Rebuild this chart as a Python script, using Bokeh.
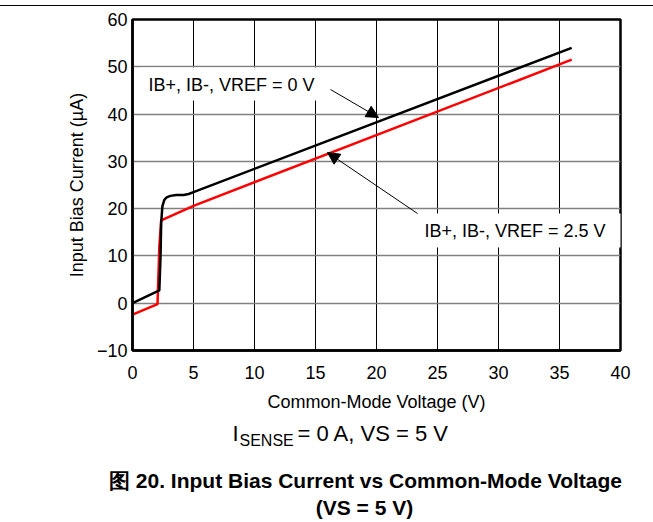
from bokeh.plotting import figure
from bokeh.layouts import column
from bokeh.models import Label, Arrow, NormalHead, BoxAnnotation, FixedTicker, Range1d, Div
from bokeh.embed import file_html
from bokeh.resources import INLINE

# ---- data ----
vref0_x = [0, 2.2, 2.3, 2.35, 2.45, 2.6, 2.8, 3.1, 3.6, 4.2, 4.6, 5, 36]
vref0_y = [0, 2.7, 10, 17, 20.5, 21.8, 22.4, 22.7, 22.9, 22.9, 23.1, 23.5, 54]
vref25_x = [0, 2.05, 2.2, 2.35, 5, 36]
vref25_y = [-2.4, -0.2, 12, 17.5, 20.6, 51.5]
x_ticks = [0, 5, 10, 15, 20, 25, 30, 35, 40]
y_ticks = [-10, 0, 10, 20, 30, 40, 50, 60]
label_0 = "IB+, IB-, VREF = 0 V"
label_25 = "IB+, IB-, VREF = 2.5 V"
x_title = "Common-Mode Voltage (V)"
y_title = "Input Bias Current (\u00b5A)"
cond_main = "I"
cond_sub = "SENSE"
cond_rest = "= 0 A, VS = 5 V"
cap1 = "\u56fe 20. Input Bias Current vs Common-Mode Voltage"
cap2 = "(VS = 5 V)"

FONT = "Liberation Sans"
W = 653
TOP_H = 6          # strip with the page rule
MAIN_H = 409       # chart canvas
BOT_H = 522 - TOP_H - MAIN_H
FL, FR, FT, FB = 132, 620, 19, 350  # frame edges in page px

def X(px):
    return (px - FL) * 40.0 / (FR - FL)

def Y(py):
    return 60 - (py - FT) * 70.0 / (FB - FT)

def blank(h, y0, y1):
    f = figure(width=W, height=h, x_range=Range1d(0, W), y_range=Range1d(y1, y0),
               output_backend="svg", toolbar_location=None, title=None,
               x_axis_location=None, y_axis_location=None,
               min_border=0, frame_align=False)
    f.min_border_left = f.min_border_right = f.min_border_top = f.min_border_bottom = 0
    f.grid.visible = False
    f.outline_line_color = None
    f.background_fill_color = "white"
    f.border_fill_color = "white"
    return f

# top rule of the page (Div without the default widget margin)
ptop = Div(text="", width=W, height=TOP_H, margin=0,
           styles={"border-bottom": "1.5px solid black", "box-sizing": "border-box"})

# main chart
top_off = TOP_H
p = figure(width=W, height=MAIN_H, x_range=(0, 40), y_range=(-10, 60),
           output_backend="svg", toolbar_location=None, frame_align=False,
           min_border_left=FL, min_border_right=W - FR,
           min_border_top=FT - top_off, min_border_bottom=top_off + MAIN_H - FB)
p.background_fill_color = "white"
p.border_fill_color = "white"
p.outline_line_color = "black"
p.outline_line_width = 2.5

p.xaxis.ticker = FixedTicker(ticks=x_ticks)
p.yaxis.ticker = FixedTicker(ticks=y_ticks)
p.yaxis.major_label_overrides = {-10: "\u221210"}
for ax in (p.xaxis, p.yaxis):
    ax.axis_line_color = "black"
    ax.axis_line_width = 2.5
    ax.major_tick_line_color = None
    ax.minor_tick_line_color = None
    ax.major_tick_out = 0
    ax.major_tick_in = 0
    ax.minor_tick_out = 0
    ax.major_label_text_font = FONT
    ax.major_label_text_font_size = "18px"
    ax.major_label_text_color = "black"
    ax.axis_label_text_font = FONT
    ax.axis_label_text_font_size = "18px"
    ax.axis_label_text_font_style = "normal"
    ax.axis_label_text_color = "black"
p.xaxis.axis_label = x_title
p.yaxis.axis_label = y_title
p.xaxis.major_label_standoff = 15
p.xaxis.axis_label_standoff = 10
p.yaxis.major_label_standoff = 5
p.yaxis.axis_label_standoff = 7

p.xgrid.ticker = FixedTicker(ticks=x_ticks)
p.ygrid.ticker = FixedTicker(ticks=y_ticks)
p.xgrid.grid_line_color = "black"
p.xgrid.grid_line_width = 1
p.ygrid.grid_line_color = "#808080"
p.ygrid.grid_line_width = 1.5

p.line(vref25_x, vref25_y, line_color="#ff0000", line_width=2.5)
p.line(vref0_x, vref0_y, line_color="black", line_width=2.5)

# white boxes behind the labels
p.add_layout(BoxAnnotation(left=X(140), right=X(360), top=Y(67), bottom=Y(100),
                           fill_color="white", fill_alpha=1, line_color=None))
p.add_layout(BoxAnnotation(left=X(415), right=X(621), top=Y(213), bottom=Y(247),
                           fill_color="white", fill_alpha=1, line_color=None))

def lab(fig, txt, x, y, size, align="left", style="normal"):
    fig.add_layout(Label(x=x, y=y, text=txt, text_font=FONT,
                         text_font_size=size, text_align=align,
                         text_baseline="middle", text_font_style=style,
                         text_color="black"))

lab(p, label_0, X(148), Y(84), "18px")
lab(p, label_25, X(424), Y(230), "18px")

p.add_layout(Arrow(x_start=X(330), y_start=Y(89), x_end=X(378), y_end=Y(117),
                   line_color="black", line_width=1,
                   end=NormalHead(size=12, fill_color="black", line_color="black")))
p.add_layout(Arrow(x_start=X(417), y_start=Y(213), x_end=X(327), y_end=Y(152),
                   line_color="black", line_width=1,
                   end=NormalHead(size=12, fill_color="black", line_color="black")))

# captions below the chart (data units = page pixels)
y0 = TOP_H + MAIN_H
pbot = blank(BOT_H, y0, 522)
lab(pbot, cond_main, 232, 433, "22px")
lab(pbot, cond_sub, 239, 440, "16px")
lab(pbot, cond_rest, 297, 433, "22px")
lab(pbot, cap1, 365, 480, "21px", align="center", style="bold")
lab(pbot, cap2, 364, 507, "21px", align="center", style="bold")

layout = column(ptop, p, pbot, spacing=0)
open("out.html", "w").write(file_html(layout, INLINE))
